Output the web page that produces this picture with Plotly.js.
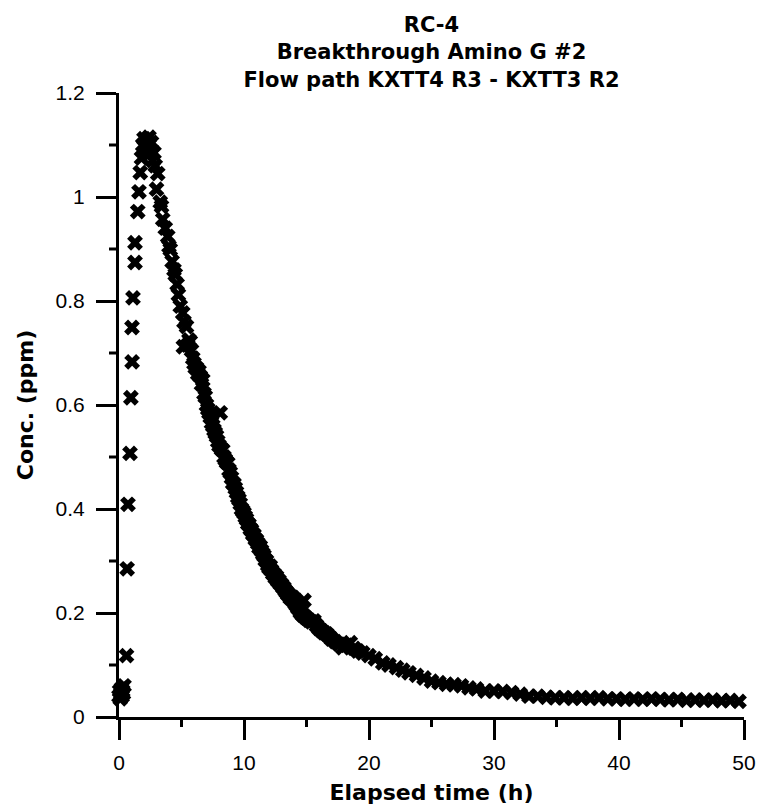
<!DOCTYPE html>
<html>
<head>
<meta charset="utf-8">
<script src="https://cdn.plot.ly/plotly-3.0.1.min.js"></script>
<style>html,body{margin:0;padding:0;background:#fff;}</style>
</head>
<body>
<div id="chart" style="width:760px;height:808px;"></div>
<script>
// Elapsed time (h)
const timeH = [
  0.0, 0.05, 0.1, 0.15, 0.2, 0.25, 0.3, 0.35, 0.4,
  0.6, 0.65, 0.72, 0.88, 0.95, 1.05, 1.04, 1.12, 1.28, 1.28, 1.5, 1.6, 1.7, 1.8, 1.9,
  2.0, 2.1, 2.2, 2.3, 2.4, 2.5, 2.6, 2.7, 2.8, 2.9, 3.0, 3.1, 3.3, 3.4, 3.5, 3.7, 3.9,
  4.0, 4.1, 4.25, 4.4, 4.5, 4.65, 4.75, 4.9, 5.1, 5.2, 5.15, 5.4, 5.5, 5.6, 5.7, 5.8, 5.9,
  6.0, 6.1, 6.2, 6.3, 6.4, 6.5, 6.6, 6.7, 6.8, 6.9, 7.0, 7.1, 7.2, 7.3, 7.4, 7.5, 7.6, 7.7, 7.8, 7.9,
  8.0, 8.1, 8.2, 8.3, 8.4, 8.5, 8.6, 8.7, 8.8, 8.9, 9.0, 9.1, 9.2, 9.3, 9.4, 9.5, 9.6, 9.7, 9.8, 9.9,
  10.0, 10.1, 10.2, 10.3, 10.4, 10.5, 10.6, 10.7, 10.8, 10.9, 11.0, 11.1, 11.2, 11.3, 11.4, 11.5, 11.6, 11.7, 11.8, 11.9,
  12.0, 12.1, 12.2, 12.3, 12.4, 12.5, 12.6, 12.7, 12.8, 12.9, 13.0, 13.1, 13.2, 13.3, 13.4, 13.5, 13.6, 13.7, 13.8, 13.9,
  14.0, 14.1, 14.2, 14.3, 14.4, 14.5, 14.6, 14.7, 14.8, 14.9, 15.0, 15.2, 15.4, 15.6, 15.8, 16.0, 16.2, 16.4, 16.6, 16.8,
  17.0, 17.3, 17.6, 17.9, 18.2, 18.5, 18.8, 19.1, 19.5, 20.0, 20.5, 21.1, 21.6, 22.2, 22.7, 23.2, 23.8, 24.4, 25.0, 25.6,
  26.2, 26.8, 27.4, 28.0, 28.6, 29.3, 30.0, 30.7, 31.4, 32.1, 32.8, 33.5, 34.2, 34.9, 35.6, 36.3, 37.0, 37.7, 38.4, 39.1,
  39.8, 40.5, 41.2, 41.9, 42.6, 43.3, 44.0, 44.7, 45.4, 46.1, 46.8, 47.5, 48.2, 48.9, 49.6, 50.3, 51.0
];
// Conc. (ppm)
const concPpm = [
  0.040, 0.050, 0.035, 0.045, 0.055, 0.040, 0.050, 0.045, 0.060,
  0.118, 0.285, 0.409, 0.507, 0.614, 0.683, 0.749, 0.806, 0.874, 0.912, 0.972, 1.010, 1.047, 1.075, 1.100,
  1.112, 1.095, 1.108, 1.080, 1.115, 1.090, 1.105, 1.070, 1.085, 1.060, 1.015, 1.045, 0.990, 0.982, 0.957, 0.940, 0.924,
  0.905, 0.899, 0.876, 0.860, 0.851, 0.832, 0.812, 0.790, 0.777, 0.760, 0.712, 0.751, 0.715, 0.725, 0.722, 0.705, 0.690,
  0.680, 0.672, 0.671, 0.660, 0.665, 0.655, 0.640, 0.648, 0.622, 0.616, 0.600, 0.592, 0.585, 0.577, 0.566, 0.560, 0.552, 0.546, 0.540, 0.530,
  0.522, 0.585, 0.515, 0.513, 0.500, 0.495, 0.490, 0.488, 0.475, 0.470, 0.460, 0.450, 0.448, 0.440, 0.432, 0.423, 0.418, 0.410, 0.400, 0.396,
  0.392, 0.385, 0.380, 0.372, 0.370, 0.362, 0.359, 0.352, 0.350, 0.342, 0.340, 0.334, 0.326, 0.328, 0.320, 0.314, 0.310, 0.302, 0.300, 0.292,
  0.287, 0.290, 0.282, 0.276, 0.275, 0.268, 0.270, 0.262, 0.262, 0.256, 0.255, 0.250, 0.248, 0.243, 0.240, 0.236, 0.235, 0.229, 0.228, 0.230,
  0.222, 0.218, 0.215, 0.210, 0.208, 0.202, 0.199, 0.196, 0.224, 0.192, 0.190, 0.186, 0.183, 0.185, 0.176, 0.170, 0.166, 0.162, 0.160, 0.155,
  0.150, 0.145, 0.140, 0.133, 0.138, 0.143, 0.132, 0.127, 0.123, 0.118, 0.112, 0.104, 0.100, 0.095, 0.090, 0.085, 0.080, 0.075, 0.069, 0.066,
  0.063, 0.062, 0.060, 0.056, 0.054, 0.050, 0.050, 0.049, 0.047, 0.044, 0.040, 0.040, 0.038, 0.037, 0.037, 0.036, 0.037, 0.036, 0.037, 0.035,
  0.035, 0.034, 0.035, 0.034, 0.035, 0.034, 0.033, 0.034, 0.032, 0.033, 0.032, 0.033, 0.031, 0.032, 0.030, 0.029, 0.028
];
const titleLines = ["RC-4", "Breakthrough Amino G #2", "Flow path KXTT4 R3 - KXTT3 R2"];
const xTitle = "Elapsed time (h)";
const yTitle = "Conc. (ppm)";
const xTickVals = [0, 10, 20, 30, 40, 50];
const xMinorVals = [5, 15, 25, 35, 45];
const yTickVals = [0, 0.2, 0.4, 0.6, 0.8, 1.0, 1.2];
const yTickText = ["0", "0.2", "0.4", "0.6", "0.8", "1", "1.2"];
const yMinorVals = [0.1, 0.3, 0.5, 0.7, 0.9, 1.1];

const FONT = "Liberation Sans, Arial, sans-serif";
const BOLD = "DejaVu Sans, Liberation Sans, sans-serif";
const MAJOR_LEN = 20, MINOR_LEN = 10, LW = 3;

const trace = {
  x: timeH, y: concPpm, type: "scatter", mode: "markers", cliponaxis: false,
  marker: {symbol: "x", size: 14, color: "#000", line: {width: 0}},
  hoverinfo: "skip"
};

// minor tick marks: pixel-length shapes anchored at the axis values
const tickLine = {color: "#000", width: LW};
const shapes = [];
xMinorVals.forEach(function (v) {
  shapes.push({type: "line", xref: "x", yref: "paper", ysizemode: "pixel", yanchor: 0,
    x0: v, x1: v, y0: -1, y1: -MINOR_LEN, line: tickLine, layer: "above"});
});
yMinorVals.forEach(function (v) {
  shapes.push({type: "line", yref: "y", xref: "paper", xsizemode: "pixel", xanchor: 0,
    y0: v, y1: v, x0: -1, x1: -MINOR_LEN, line: tickLine, layer: "above"});
});

const base = {
  showgrid: false, zeroline: false, showline: true, linecolor: "#000", linewidth: LW,
  ticks: "outside", ticklen: MAJOR_LEN, tickwidth: LW, tickcolor: "#000",
  tickfont: {family: FONT, size: 21, color: "#000"}, tickmode: "array"
};

const layout = {
  width: 760, height: 808,
  margin: {l: 119, r: 16, t: 93, b: 91},
  paper_bgcolor: "#fff", plot_bgcolor: "#fff",
  showlegend: false,
  title: {
    text: titleLines.join("<br>"),
    font: {family: BOLD, size: 21, color: "#000", weight: "bold"},
    x: 0.5, xref: "paper", xanchor: "center",
    y: 1 - 32 / 808, yref: "container", yanchor: "top"
  },
  xaxis: Object.assign({}, base, {
    range: [0, 50], tickvals: xTickVals, ticklabelstandoff: 5,
    title: {text: xTitle, font: {family: BOLD, size: 22, color: "#000", weight: "bold"}, standoff: 12}
  }),
  yaxis: Object.assign({}, base, {
    range: [0, 1.2], tickvals: yTickVals, ticktext: yTickText, ticklabelstandoff: 7,
    title: {text: yTitle, font: {family: BOLD, size: 22, color: "#000", weight: "bold"}, standoff: 16}
  }),
  shapes: shapes
};

Plotly.newPlot("chart", [trace], layout, {displayModeBar: false, staticPlot: true});
</script>
</body>
</html>
